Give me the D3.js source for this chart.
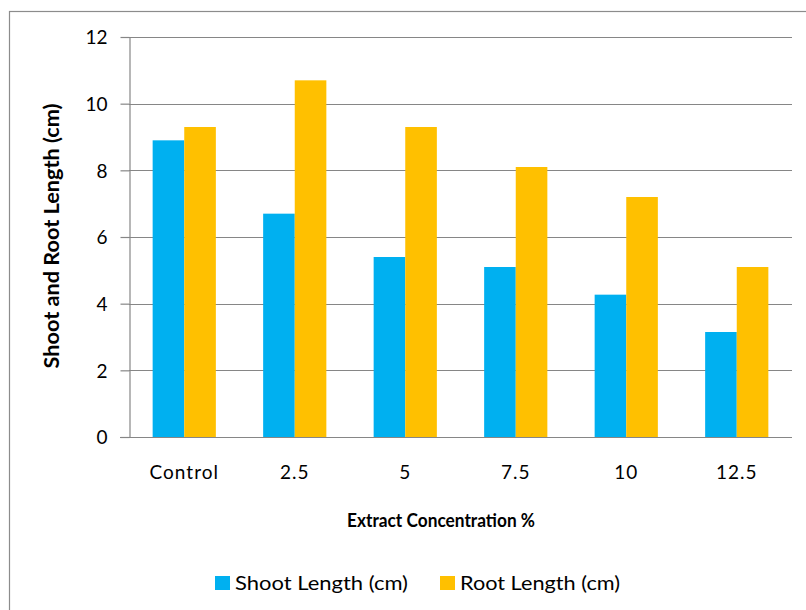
<!DOCTYPE html>
<html>
<head>
<meta charset="utf-8">
<script src="https://cdn.jsdelivr.net/npm/d3@7"></script>
<style>
  body { margin: 0; background: #fff; }
  svg text { font-family: Lato, "Open Sans", sans-serif; fill: #000; }
</style>
</head>
<body>
<svg id="chart" width="806" height="610"></svg>
<script>
// donnees
const concentrations = ["Control", "2.5", "5", "7.5", "10", "12.5"];
const shootLength = [8.9, 6.7, 5.4, 5.1, 4.27, 3.15];
const rootLength = [9.3, 10.7, 9.3, 8.1, 7.2, 5.1];
const yTicks = [0, 2, 4, 6, 8, 10, 12];
const series = ["Shoot Length (cm)", "Root Length (cm)"];
const couleurs = ["#00B0F0", "#FFC000"];

const svg = d3.select("#chart");

// cadre exterieur
svg.append("rect")
  .attr("x", 9.5).attr("y", 11.5)
  .attr("width", 820).attr("height", 620)
  .attr("fill", "none").attr("stroke", "#8c8c8c").attr("stroke-width", 1.2);

const plot = { left: 129, right: 792, top: 37, bottom: 437 };

const x = d3.scaleBand()
  .domain(concentrations)
  .range([plot.left, plot.right])
  .paddingInner(0.428)
  .paddingOuter(0.214);

const xSub = d3.scaleBand()
  .domain(series)
  .range([0, x.bandwidth()]);

const y = d3.scaleLinear()
  .domain([0, 12])
  .range([plot.bottom, plot.top]);

// grille horizontale
svg.append("g")
  .selectAll("line")
  .data(yTicks.filter((d) => d > 0))
  .join("line")
  .attr("x1", plot.left).attr("x2", plot.right)
  .attr("y1", (d) => Math.round(y(d)) + 0.5)
  .attr("y2", (d) => Math.round(y(d)) + 0.5)
  .attr("stroke", "#868686").attr("stroke-width", 1.2);

// barres
const groupes = svg.append("g")
  .selectAll("g")
  .data(concentrations.map((c, i) => ({ c, valeurs: [shootLength[i], rootLength[i]] })))
  .join("g")
  .attr("transform", (d) => `translate(${x(d.c)},0)`);

groupes.selectAll("rect")
  .data((d) => d.valeurs.map((v, j) => ({ serie: series[j], v, j })))
  .join("rect")
  .attr("x", (d) => xSub(d.serie))
  .attr("width", xSub.bandwidth())
  .attr("y", (d) => y(d.v))
  .attr("height", (d) => y(0) - y(d.v))
  .attr("fill", (d) => couleurs[d.j]);

// axe y
const axeY = svg.append("g")
  .attr("transform", `translate(${plot.left + 0.5},0)`)
  .call(d3.axisLeft(y).tickValues(yTicks).tickSize(9).tickPadding(13).tickSizeOuter(0));
axeY.select(".domain").attr("stroke", "#868686").attr("stroke-width", 1.2);
axeY.selectAll(".tick line").attr("stroke", "#868686").attr("stroke-width", 1.2);
axeY.selectAll(".tick text").style("font-size", "19px").attr("dy", "0.36em");

// axe x
const axeX = svg.append("g")
  .attr("transform", `translate(0,${plot.bottom + 0.5})`)
  .call(d3.axisBottom(x).tickSize(0).tickPadding(28).tickSizeOuter(0));
axeX.select(".domain")
  .attr("d", `M${plot.left - 9},0H${plot.right}`)
  .attr("stroke", "#868686").attr("stroke-width", 1.2);
axeX.selectAll(".tick text")
  .style("font-size", "19px")
  .style("letter-spacing", "1px");

// titres des axes
svg.append("text")
  .attr("x", 441).attr("y", 527)
  .attr("text-anchor", "middle")
  .attr("textLength", 188).attr("lengthAdjust", "spacingAndGlyphs")
  .style("font-size", "18px").style("font-weight", "bold")
  .text("Extract Concentration %");

svg.append("text")
  .attr("transform", "translate(59,236) rotate(-90)")
  .attr("text-anchor", "middle")
  .attr("textLength", 265).attr("lengthAdjust", "spacingAndGlyphs")
  .style("font-size", "20px").style("font-weight", "bold")
  .text("Shoot and Root Length (cm)");

// legende
const legendeX = [215, 440];
const legendeLong = [173, 160];
const legende = svg.append("g")
  .selectAll("g")
  .data(series)
  .join("g")
  .attr("transform", (d, i) => `translate(${legendeX[i]},576)`);
legende.append("rect")
  .attr("width", 15).attr("height", 14)
  .attr("fill", (d, i) => couleurs[i]);
legende.append("text")
  .attr("x", 20).attr("y", 14)
  .attr("textLength", (d, i) => legendeLong[i])
  .attr("lengthAdjust", "spacingAndGlyphs")
  .style("font-size", "19px")
  .text((d) => d);
</script>
</body>
</html>
